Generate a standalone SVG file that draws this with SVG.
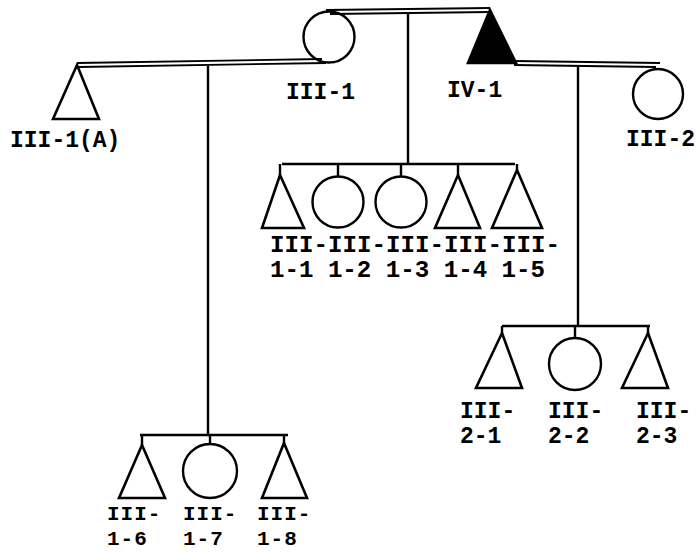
<svg xmlns="http://www.w3.org/2000/svg" width="697" height="552" viewBox="0 0 697 552">
<style>
.s{fill:none;stroke:#000;stroke-width:2.6;stroke-linejoin:miter}
.f{fill:#000;stroke:#000;stroke-width:2.6}
.c{fill:none;stroke:#000;stroke-width:2.4}
.d{fill:none;stroke:#000;stroke-width:1.8}
text{font-family:"Liberation Mono","Courier New",monospace;font-weight:bold;font-size:23px;fill:#000}
.b{font-size:21px;letter-spacing:1px}
</style>
<rect width="697" height="552" fill="#fff"/>
<g id="connectors">
<path class="d" d="M77,63 L322,59 M79,67 L326,63"/>
<path class="d" d="M326,10 L490,8 M330,14 L490,12"/>
<path class="d" d="M514,61 L660,63 M514,65 L656,67"/>
<path class="c" d="M208,66 V435"/>
<path class="c" d="M408,13 V163"/>
<path class="c" d="M578,65 V326"/>
<path class="c" d="M282,164 H515 M280,164 V175 M338,164 V177 M401,164 V176 M458,164 V175 M517,164 V170"/>
<path class="c" d="M502,326 H650 M502,326 V333 M575,326 V338 M648,326 V333"/>
<path class="c" d="M140,435 H288 M142,435 V445 M210,435 V444 M284,435 V443"/>
</g>
<g id="III-1A"><path class="s" d="M77,65 L99,119 L53,119 Z"/><text x="10" y="147">III-1(A)</text></g>
<g id="III-1"><circle class="c" cx="329" cy="37" r="25.5"/><text x="286" y="99">III-1</text></g>
<g id="IV-1"><path class="f" d="M490,10 L516,63 L468,63 Z"/><text x="447" y="97">IV-1</text></g>
<g id="III-2"><circle class="c" cx="658" cy="94" r="25"/><text x="626" y="146">III-2</text></g>
<g id="III-1-1"><path class="s" d="M280,175 L304,228 L262,228 Z"/></g>
<g id="III-1-2"><circle class="c" cx="338" cy="202" r="25.5"/></g>
<g id="III-1-3"><circle class="c" cx="401" cy="202" r="25.5"/></g>
<g id="III-1-4"><path class="s" d="M458,175 L480,228 L435,228 Z"/></g>
<g id="III-1-5"><path class="s" d="M517,170 L542,228 L492,228 Z"/></g>
<g id="labels-1-1to5"><text x="270" y="252" textLength="290" lengthAdjust="spacingAndGlyphs">III-III-III-III-III-</text><text x="270" y="277" textLength="275" lengthAdjust="spacingAndGlyphs">1-1 1-2 1-3 1-4 1-5</text></g>
<g id="III-2-1"><path class="s" d="M502,333 L522,388 L476,388 Z"/><text x="460" y="418">III-</text><text x="460" y="443">2-1</text></g>
<g id="III-2-2"><circle class="c" cx="575" cy="364" r="26"/><text x="548" y="418">III-</text><text x="548" y="443">2-2</text></g>
<g id="III-2-3"><path class="s" d="M648,333 L668,388 L622,388 Z"/><text x="636" y="418">III-</text><text x="636" y="443">2-3</text></g>
<g id="III-1-6"><path class="s" d="M142,445 L165,498 L119,498 Z"/><text class="b" x="107" y="520">III-</text><text class="b" x="107" y="545">1-6</text></g>
<g id="III-1-7"><circle class="c" cx="210" cy="471" r="27"/><text class="b" x="183" y="520">III-</text><text class="b" x="183" y="545">1-7</text></g>
<g id="III-1-8"><path class="s" d="M284,443 L307,498 L262,498 Z"/><text class="b" x="257" y="520">III-</text><text class="b" x="257" y="545">1-8</text></g>
</svg>
